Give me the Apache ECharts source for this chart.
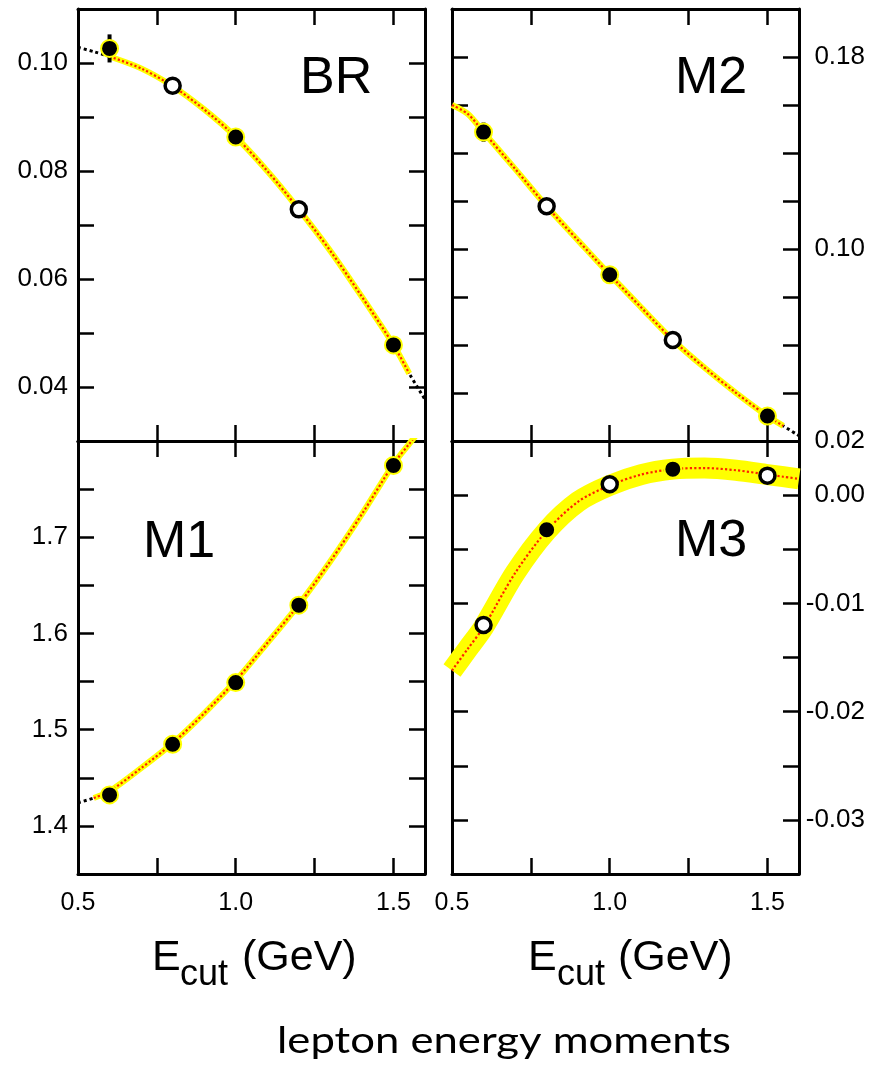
<!DOCTYPE html>
<html>
<head>
<meta charset="utf-8">
<script src="https://cdn.jsdelivr.net/npm/echarts@6/dist/echarts.min.js"></script>
<style>
  html, body { margin: 0; padding: 0; background: #fff; }
  #chart { width: 876px; height: 1072px; }
</style>
</head>
<body>
<div id="chart"></div>
<script>
// E_cut values of the measured points (GeV)
var ecut = [0.6, 0.8, 1.0, 1.2, 1.5];

// measured moments, their errors and which ones are drawn open
var brVal = [0.1027, 0.0958, 0.0863, 0.0729, 0.0478];
var brErr = [0.0026, 0.0005, 0.0005, 0.0005, 0.0005];
var brOpen = [false, true, false, true, false];

var m2Val = [0.1487, 0.1178, 0.0893, 0.0621, 0.0304];
var m2Err = [0.0040, 0.0010, 0.0010, 0.0010, 0.0010];
var m2Open = [false, true, false, true, false];

var m1Val = [1.4322, 1.4848, 1.5489, 1.6294, 1.7745];
var m1Err = [0.004, 0.004, 0.004, 0.004, 0.004];
var m1Open = [false, false, false, false, false];

var m3Val = [-0.0120, -0.0032, 0.0010, 0.0024, 0.0018];
var m3Err = [0.0005, 0.0005, 0.0005, 0.0005, 0.0005];
var m3Open = [true, false, true, false, true];

// fit curves
var fitX = [0.5, 0.55, 0.6, 0.7, 0.8, 0.9, 1.0, 1.1, 1.2, 1.3, 1.4, 1.5, 1.55, 1.6];
var brFit = [0.1029, 0.1021, 0.1012, 0.0990, 0.0957, 0.0914, 0.0863, 0.0800, 0.0729, 0.0652, 0.0567, 0.0478, 0.0425, 0.0377];
var m2Fit = [0.1600, 0.1563, 0.1487, 0.1334, 0.1178, 0.1035, 0.0893, 0.0756, 0.0621, 0.0506, 0.0401, 0.0304, 0.0263, 0.0222];
var m1Fit = [1.424, 1.429, 1.436, 1.460, 1.486, 1.517, 1.551, 1.590, 1.630, 1.675, 1.724, 1.776, 1.797, 1.818];
var m3Fit = [-0.0162, -0.0142, -0.0122, -0.0072, -0.0033, -0.0006, 0.0009, 0.0019, 0.0024, 0.0025, 0.0023, 0.0019, 0.0017, 0.0015];

// x range covered by the yellow theory band in each panel
var brBand = [0.6, 1.55];
var m2Band = [0.5, 1.55];
var m1Band = [0.55, 1.6];
var m3Band = [0.5, 1.6];

// tick labels
var xTickLabels = ['0.5', '1.0', '1.5'];
var brTickLabels = ['0.04', '0.06', '0.08', '0.10'];
var m2TickLabels = ['0.02', '0.10', '0.18'];
var m1TickLabels = ['1.4', '1.5', '1.6', '1.7'];
var m3TickLabels = ['-0.03', '-0.02', '-0.01', '0.00'];

var FONT = 'Liberation Sans, Arial, sans-serif';

var grids = [
    {left: 78, top: 9, width: 347, height: 432},   // BR
    {left: 452, top: 9, width: 347, height: 432},  // M2
    {left: 78, top: 441, width: 347, height: 433}, // M1
    {left: 452, top: 441, width: 347, height: 433} // M3
];

// only print a label when the tick sits exactly on one of the listed values
function labelFormatter(list) {
    return function (v) {
        for (var i = 0; i < list.length; i++) {
            if (Math.abs(parseFloat(list[i]) - v) < 1e-7) return list[i];
        }
        return '';
    };
}

var xAxes = [];
var yAxes = [];

function addAxes(g, ymin, ymax, yint, side, yLabels, showX) {
    var line = {onZero: false, lineStyle: {color: '#000', width: 3}};
    var tick = {inside: true, length: 16, lineStyle: {color: '#000', width: 2.5}};
    ['bottom', 'top'].forEach(function (pos) {
        xAxes.push({
            type: 'value', gridIndex: g, position: pos,
            min: 0.5, max: 1.6, interval: 0.25,
            axisLine: line, axisTick: tick, splitLine: {show: false},
            axisLabel: {
                show: showX && pos === 'bottom', margin: 17,
                color: '#000', fontSize: 25, fontFamily: FONT,
                formatter: labelFormatter(xTickLabels)
            }
        });
    });
    ['left', 'right'].forEach(function (pos) {
        var lab = {show: pos === side, color: '#000', fontSize: 26, fontFamily: FONT,
            padding: [5, 0, 0, 0], formatter: labelFormatter(yLabels),
            showMinLabel: true, showMaxLabel: true};
        if (pos === 'left') {
            lab.margin = 10;
        } else {
            lab.margin = 66;
            lab.align = 'right';
        }
        yAxes.push({
            type: 'value', gridIndex: g, position: pos,
            min: ymin, max: ymax, interval: yint,
            axisLine: line, axisTick: tick, splitLine: {show: false},
            axisLabel: lab
        });
    });
}

addAxes(0, 0.03, 0.11, 0.01, 'left', brTickLabels, false);
addAxes(1, 0.02, 0.20, 0.02, 'right', m2TickLabels, false);
addAxes(2, 1.35, 1.80, 0.05, 'left', m1TickLabels, true);
addAxes(3, -0.035, 0.005, 0.005, 'right', m3TickLabels, true);

function pairs(xs, ys) {
    return xs.map(function (x, i) { return [x, ys[i]]; });
}

function inBand(fit, band) {
    return pairs(fitX, fit).filter(function (p) {
        return p[0] >= band[0] - 1e-9 && p[0] <= band[1] + 1e-9;
    });
}

var series = [];

function addPanel(g, fit, band, bandWidth, vals, errs, open) {
    var ax = {xAxisIndex: 2 * g, yAxisIndex: 2 * g};
    // black dotted full-range fit underneath
    series.push(Object.assign({
        type: 'line', smooth: 0.3, symbol: 'none', z: 2, silent: true,
        data: pairs(fitX, fit),
        lineStyle: {color: '#000', width: 3, type: [3, 3]}
    }, ax));
    // yellow band
    series.push(Object.assign({
        type: 'line', smooth: 0.3, symbol: 'none', z: 3, silent: true,
        data: inBand(fit, band),
        lineStyle: {color: '#ffff00', width: bandWidth, cap: 'butt', join: 'round'}
    }, ax));
    // red dotted central curve
    series.push(Object.assign({
        type: 'line', smooth: 0.3, symbol: 'none', z: 4, silent: true,
        data: inBand(fit, band),
        lineStyle: {color: '#ff2200', width: 2.2, type: 'dotted'}
    }, ax));
    // error bars
    series.push(Object.assign({
        type: 'custom', z: 5, silent: true,
        encode: {x: 0, y: [1, 2]},
        data: ecut.map(function (x, i) { return [x, vals[i] - errs[i], vals[i] + errs[i]]; }),
        renderItem: function (params, api) {
            var lo = api.coord([api.value(0), api.value(1)]);
            var hi = api.coord([api.value(0), api.value(2)]);
            return {
                type: 'line',
                shape: {x1: lo[0], y1: lo[1], x2: hi[0], y2: hi[1]},
                style: {stroke: '#000', lineWidth: 4}
            };
        }
    }, ax));
    // filled points
    series.push(Object.assign({
        type: 'scatter', z: 6, symbol: 'circle', symbolSize: 17, silent: true,
        data: pairs(ecut, vals).filter(function (p, i) { return !open[i]; }),
        itemStyle: {color: '#000', borderColor: '#ffff00', borderWidth: 2, opacity: 1}
    }, ax));
    // open points
    series.push(Object.assign({
        type: 'scatter', z: 6, symbol: 'circle', symbolSize: 15, silent: true,
        data: pairs(ecut, vals).filter(function (p, i) { return open[i]; }),
        itemStyle: {color: '#fff', borderColor: '#000', borderWidth: 3.5, opacity: 1}
    }, ax));
}

addPanel(0, brFit, brBand, 6, brVal, brErr, brOpen);
addPanel(1, m2Fit, m2Band, 6, m2Val, m2Err, m2Open);
addPanel(2, m1Fit, m1Band, 6, m1Val, m1Err, m1Open);
addPanel(3, m3Fit, m3Band, 21, m3Val, m3Err, m3Open);

function txt(text, x, y, size, family) {
    return {
        type: 'text', x: x, y: y, z: 20, silent: true,
        style: {
            text: text, fill: '#000', fontSize: size,
            fontFamily: family || FONT, align: 'left', verticalAlign: 'middle'
        }
    };
}

var graphics = [
    txt('BR', 300, 78.5, 52),
    txt('M2', 675, 79, 52),
    txt('M1', 143, 543, 52),
    txt('M3', 675, 541.5, 52),
    // axis titles: E with a lowered "cut"
    txt('E', 152, 958, 43),
    txt('cut', 180, 975.5, 36),
    txt('(GeV)', 242, 958, 43),
    txt('E', 528, 958, 43),
    txt('cut', 557, 975.5, 36),
    txt('(GeV)', 618, 958, 43),
    {
        type: 'text', x: 504, y: 1041, z: 20, silent: true, scaleX: 1.18,
        style: {
            text: 'lepton energy moments', fill: '#000', fontSize: 37,
            fontFamily: 'Lato, sans-serif', align: 'center', verticalAlign: 'middle'
        }
    }
];

var chart = echarts.init(document.getElementById('chart'), null, {renderer: 'canvas'});
chart.setOption({
    backgroundColor: '#fff',
    animation: false,
    grid: grids,
    xAxis: xAxes,
    yAxis: yAxes,
    series: series,
    graphic: graphics
});
</script>
</body>
</html>
